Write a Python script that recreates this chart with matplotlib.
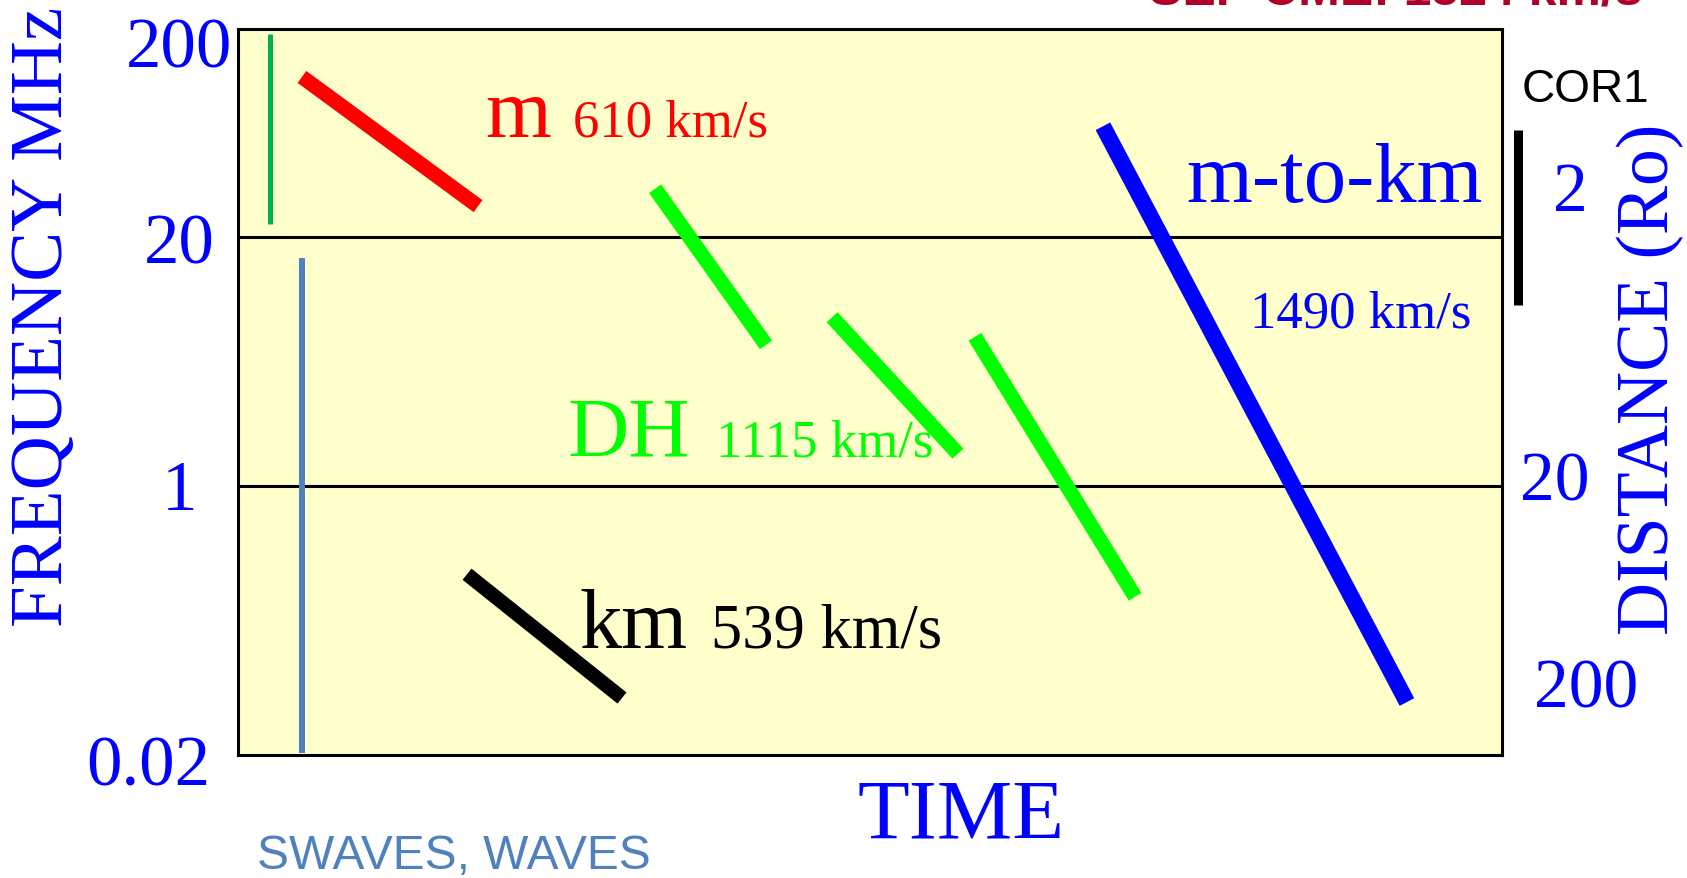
import matplotlib
matplotlib.use("Agg")
import matplotlib.pyplot as plt

W, H = 1687, 879

# schematic axes: time 0..100, frequency/height level 0..100
# drift segments: (x0, y0, x1, y1)
seg_names = ["m", "DH1", "DH2", "DH3", "km", "mtokm"]
seg_x0 = [5.06, 33.0, 47.0, 58.3, 18.12, 68.43]
seg_y0 = [93.4, 78.0, 60.3, 57.6, 24.9, 86.6]
seg_x1 = [18.99, 41.77, 56.96, 70.97, 30.38, 92.48]
seg_y1 = [75.6, 56.5, 41.5, 21.8, 7.85, 7.3]
seg_colors = ["#FF0000", "#00FF00", "#00FF00", "#00FF00", "#000000", "#0000FF"]
seg_widths = [10.7, 10.7, 10.7, 10.7, 10.3, 11.8]

# instrument coverage bars
inst_x = [2.53, 5.06]
inst_ylo = [73.1, 0.3]
inst_yhi = [99.3, 68.5]
inst_colors = ["#00B050", "#4F81BD"]
band_lines = [71.3, 37.1]

# labels
big_labels = ["m", "DH", "km", "m-to-km"]
big_x = [19.6, 26.1, 27.0, 75.0]
big_y = [85.3, 41.2, 14.9, 76.3]
big_col = ["#FF0000", "#00FF00", "#000000", "#0000FF"]
speed_labels = ["610 km/s", "1115 km/s", "539 km/s", "1490 km/s"]
speed_x = [26.5, 37.8, 37.4, 80.1]
speed_y = [85.3, 41.2, 14.9, 59.0]
speed_size = [38, 38, 45, 38]

freq_ticks = ["200", "20", "1", "0.02"]
freq_tick_px = [(232, 50), (215, 246), (197, 493), (210, 768)]
dist_ticks = ["2", "20", "200"]
dist_tick_px = [(1570, 194), (1555, 484), (1586, 691)]

serif = "Liberation Serif"
sans = "Liberation Sans"

fig = plt.figure(figsize=(W / 100, H / 100), dpi=100)
ax = fig.add_axes([238 / W, 1 - 756 / H, 1264 / W, 726 / H])
ax.set_facecolor("#FFFFCC")
ax.set_xlim(0, 100)
ax.set_ylim(0, 100)
ax.set_xticks([])
ax.set_yticks([])
for s in ax.spines.values():
    s.set_linewidth(2.2)

for y in band_lines:
    ax.axhline(y, color="black", lw=2.2)

for x, lo, hi, c, lw in zip(inst_x, inst_ylo, inst_yhi, inst_colors, [3.6, 4.3]):
    ax.plot([x, x], [lo, hi], color=c, lw=lw, solid_capstyle="butt")

for i in range(len(seg_names)):
    ax.plot([seg_x0[i], seg_x1[i]], [seg_y0[i], seg_y1[i]], color=seg_colors[i],
            lw=seg_widths[i], solid_capstyle="butt")

# COR1 coverage bar, outside the box
ax.plot([101.27, 101.27], [62.0, 86.1], color="black", lw=6.5,
        solid_capstyle="butt", clip_on=False)

for t, x, y, c in zip(big_labels, big_x, big_y, big_col):
    ax.text(x, y, t, color=c, fontsize=61, family=serif, va="baseline", ha="left")
for t, x, y, c, fs in zip(speed_labels, speed_x, speed_y, big_col, speed_size):
    ax.text(x, y, t, color=c, fontsize=fs, family=serif, va="baseline", ha="left")


def ftext(px, py, s, **kw):
    fig.text(px / W, 1 - py / H, s, **kw)


for t, (px, py) in zip(freq_ticks, freq_tick_px):
    ftext(px, py, t, color="#0000FF", fontsize=51, family=serif, ha="right", va="center")
for t, (px, py) in zip(dist_ticks, dist_tick_px):
    ftext(px, py, t, color="#0000FF", fontsize=50, family=serif, ha="center", va="center")

ftext(44, 317, "FREQUENCY MHz", color="#0000FF", fontsize=54, family=serif,
      rotation=90, ha="center", va="center")
ftext(1650, 379, "DISTANCE (Ro)", color="#0000FF", fontsize=53, family=serif,
      rotation=90, ha="center", va="center")
ftext(961, 818, "TIME", color="#0000FF", fontsize=61, family=serif,
      ha="center", va="center")
ftext(454, 857, "SWAVES, WAVES", color="#4F81BD", fontsize=34.5, family=sans,
      ha="center", va="center")
ftext(1585, 90, "COR1", color="black", fontsize=33, family=sans,
      ha="center", va="center")
# header text sits mostly above the canvas, as in the source image
ftext(1396, 5, "SEP CME: 1524 km/s", color="#B0002A", fontsize=36, family=sans,
      weight="bold", ha="center", va="baseline")

fig.savefig("out.png", dpi=100)
